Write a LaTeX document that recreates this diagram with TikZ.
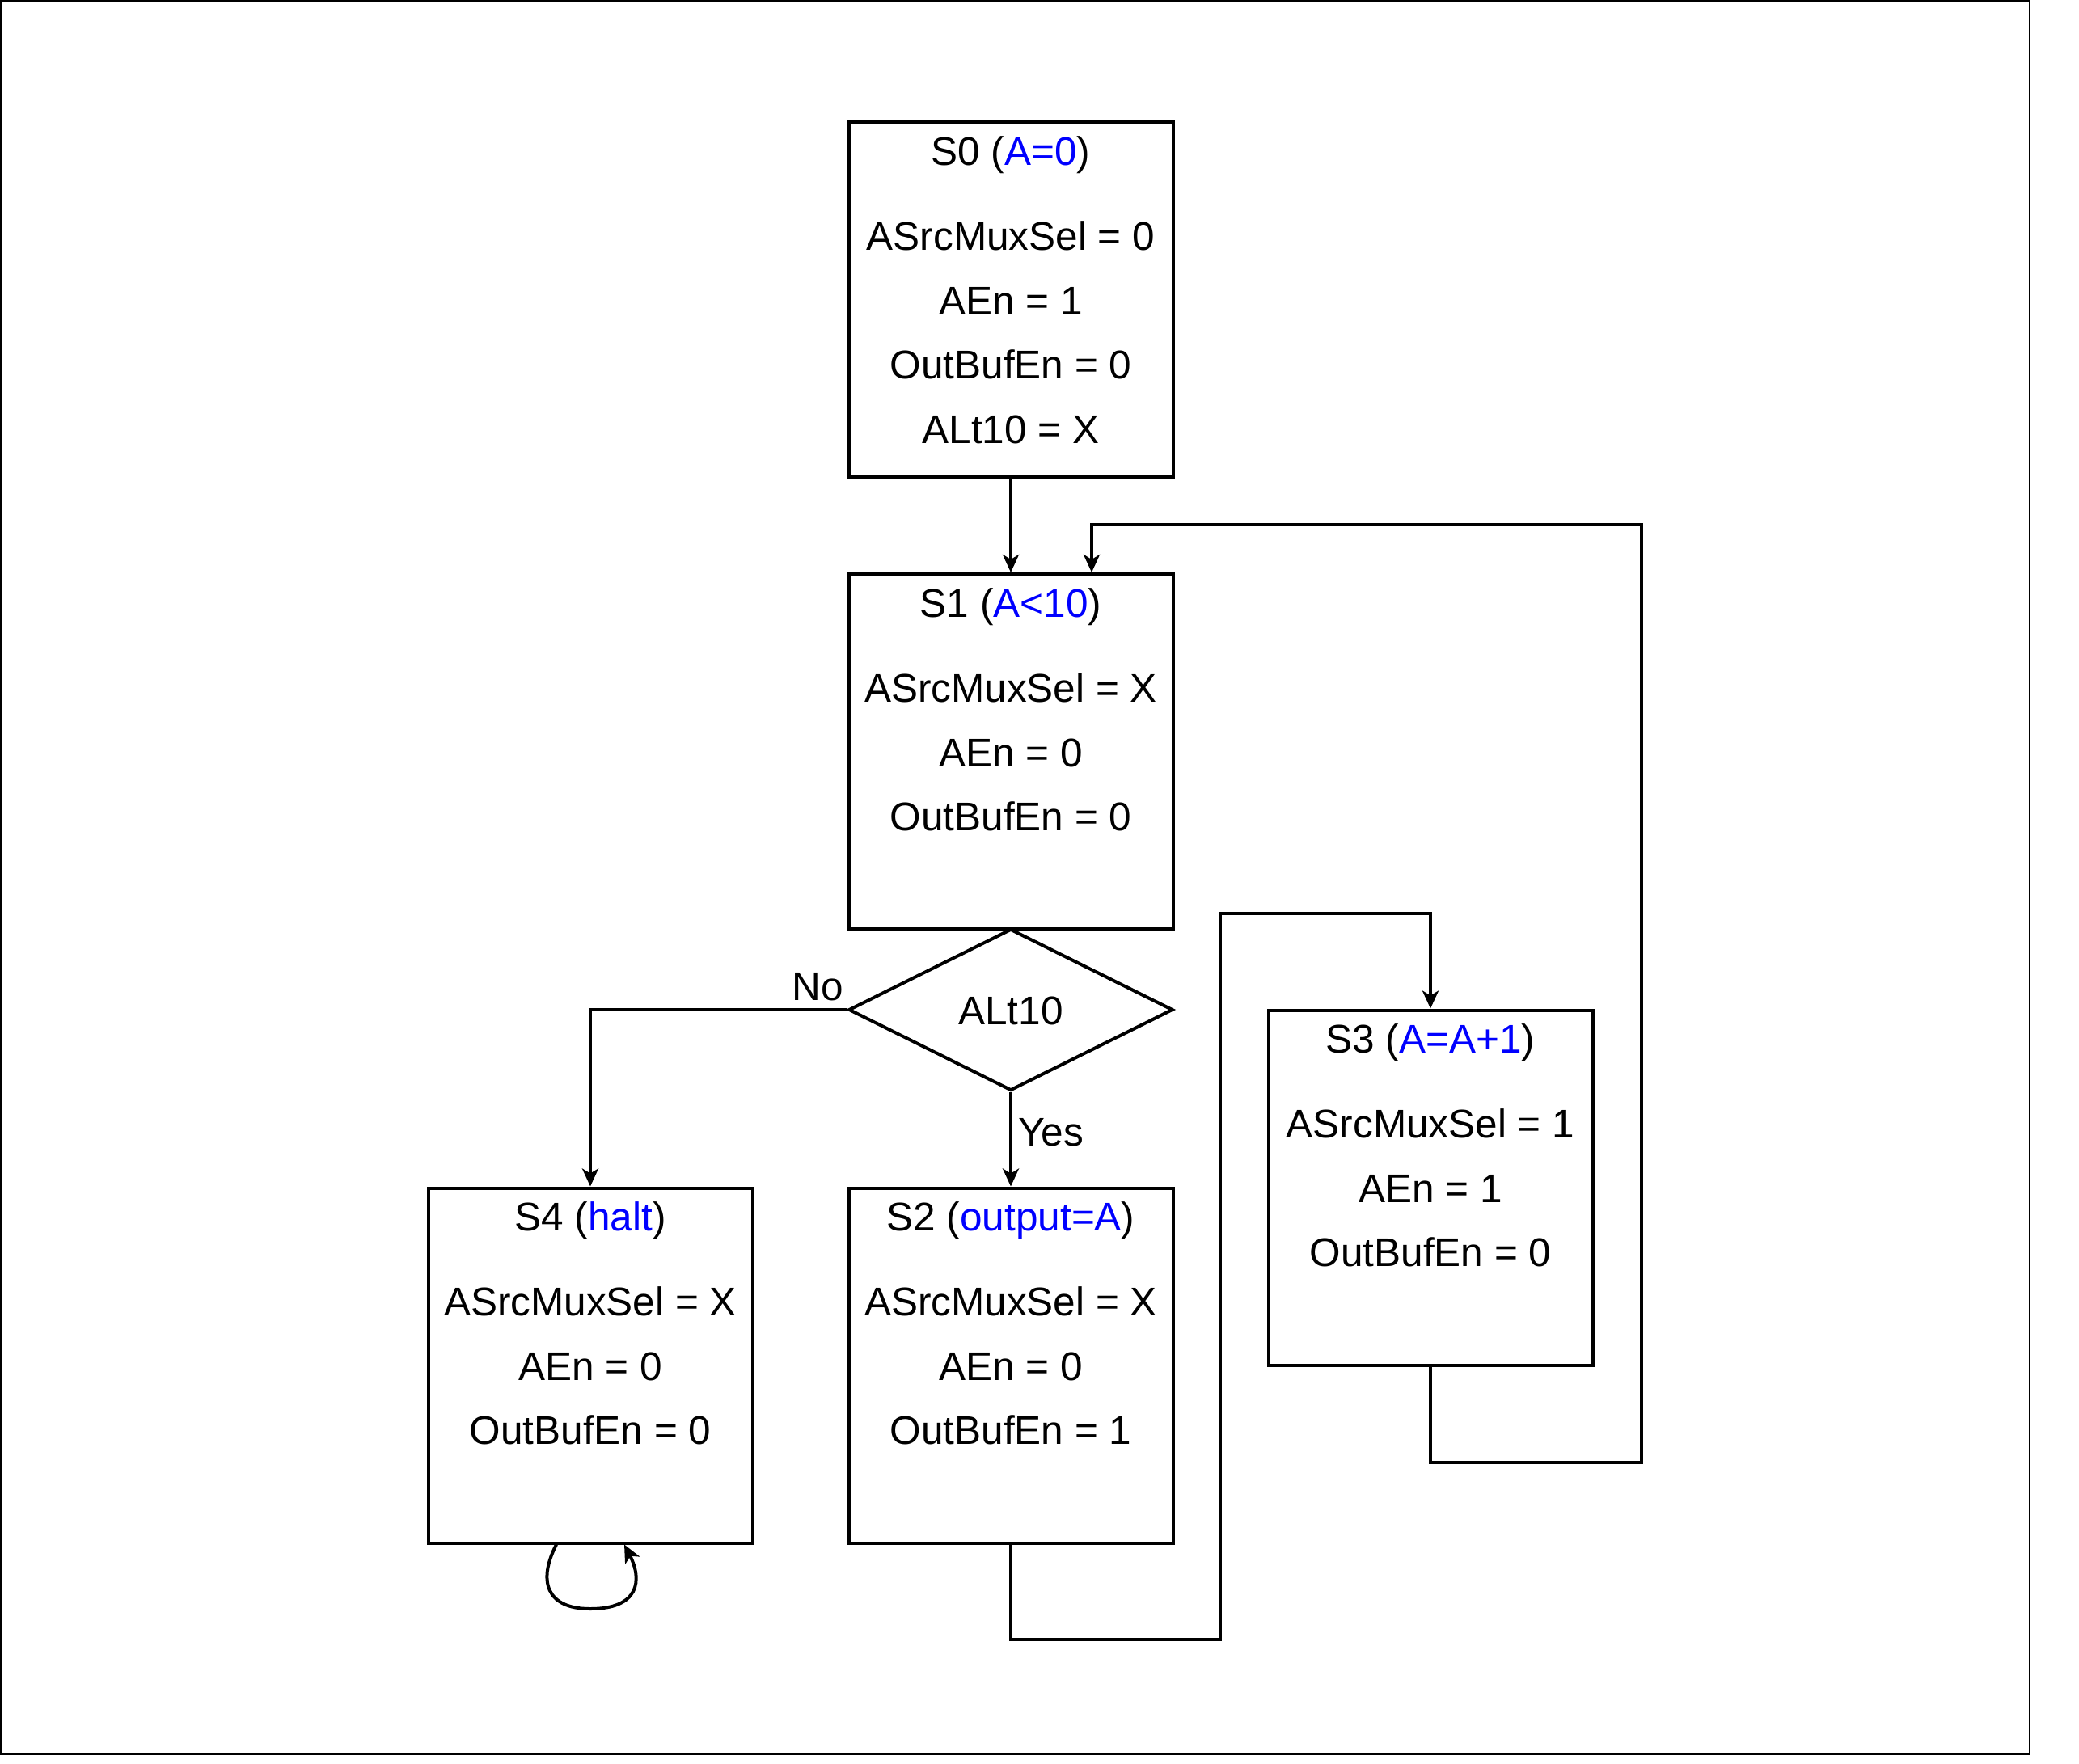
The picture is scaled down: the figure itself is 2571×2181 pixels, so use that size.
\documentclass[tikz,border=0pt]{standalone}
\usepackage{fontspec}
\setmainfont{Liberation Sans}
\usetikzlibrary{arrows.meta,shapes.geometric}
\definecolor{lblue}{RGB}{0,0,255}
\begin{document}
\begin{tikzpicture}[x=1pt,y=-1pt,
  statebox/.style={draw,line width=4pt,minimum width=401pt,minimum height=439pt,inner sep=0pt},
  txt/.style={anchor=base,inner sep=0pt,font=\fontsize{49.5}{58}\selectfont},
  conn/.style={line width=4pt,-{Stealth[length=22pt,width=20pt,inset=6pt]}},
  plain/.style={line width=4pt}]
\useasboundingbox (0,0) rectangle (2571,2181);
\draw[line width=1.6pt] (0.8,0.8) rectangle (2510,2170);
% boxes
\node[statebox] (s0) at (1250,370.5) {};
\node[statebox] (s1) at (1250,929.5) {};
\node[statebox] (s2) at (1250,1689) {};
\node[statebox] (s4) at (730,1689) {};
\node[statebox] (s3) at (1769,1469) {};
\node[diamond,draw,line width=4pt,minimum width=401pt,minimum height=200pt,aspect=2,inner sep=0pt] (d) at (1250,1249) {};
% texts S0
\node[txt] (s0t) at (1250,204) {S0 (\textcolor{lblue}{A=0})};
\node[txt] (s0a) at (1250,309) {ASrcMuxSel = 0};
\node[txt] (s0b) at (1250,389) {AEn = 1};
\node[txt] (s0c) at (1250,468) {OutBufEn = 0};
\node[txt] (s0d) at (1250,548) {ALt10 = X};
% S1
\node[txt] (s1t) at (1250,763) {S1 (\textcolor{lblue}{A<10})};
\node[txt] (s1a) at (1250,868) {ASrcMuxSel = X};
\node[txt] (s1b) at (1250,948) {AEn = 0};
\node[txt] (s1c) at (1250,1027) {OutBufEn = 0};
% S2
\node[txt] (s2t) at (1250,1522) {S2 (\textcolor{lblue}{output=A})};
\node[txt] (s2a) at (1250,1627) {ASrcMuxSel = X};
\node[txt] (s2b) at (1250,1707) {AEn = 0};
\node[txt] (s2c) at (1250,1786) {OutBufEn = 1};
% S4
\node[txt] (s4t) at (730,1522) {S4 (\textcolor{lblue}{halt})};
\node[txt] (s4a) at (730,1627) {ASrcMuxSel = X};
\node[txt] (s4b) at (730,1707) {AEn = 0};
\node[txt] (s4c) at (730,1786) {OutBufEn = 0};
% S3
\node[txt] (s3t) at (1769,1302) {S3 (\textcolor{lblue}{A=A+1})};
\node[txt] (s3a) at (1769,1407) {ASrcMuxSel = 1};
\node[txt] (s3b) at (1769,1487) {AEn = 1};
\node[txt] (s3c) at (1769,1566) {OutBufEn = 0};
% diamond text
\node[txt] (dt) at (1250,1267) {ALt10};
% labels
\node[txt,anchor=base east] (no) at (1043,1237) {No};
\node[txt,anchor=base west] (yes) at (1259,1417) {Yes};
% connectors
\draw[conn] (s0.south) -- (s1.north);
\draw[conn] (d.south) -- (s2.north);
\draw[conn] (d.west) -| (s4.north);
\draw[conn] (s3.south) -- (1769,1809) -- (2030,1809) -- (2030,649) -- (1350,649) -- ([xshift=100pt]s1.north);
\draw[conn] (s2.south) -- (1250,2028) -- (1509,2028) -- (1509,1130) -- (1769,1130) -- (s3.north);
\draw[conn] ([xshift=-42pt]s4.south) .. controls (665,1955) and (675,1990) .. (730,1990)
  .. controls (790,1990) and (795,1955) .. ([xshift=42pt]s4.south);
\end{tikzpicture}
\end{document}
